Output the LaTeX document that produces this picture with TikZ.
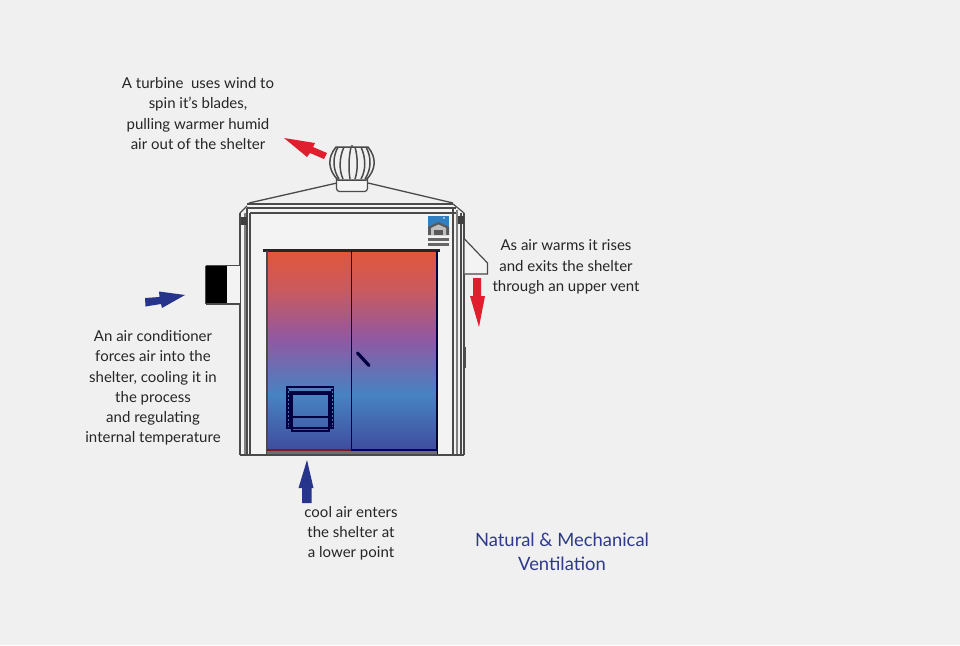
\documentclass[tikz,border=0pt]{standalone}
\usepackage{fontspec}
\setmainfont{Lato}
\definecolor{bgc}{HTML}{F0F0F0}
\definecolor{ln}{HTML}{4A4A4A}
\definecolor{arrred}{HTML}{DF1F2D}
\definecolor{arrblue}{HTML}{27348B}
\definecolor{titleblue}{HTML}{2E3A8C}
\definecolor{txt}{HTML}{262626}
\definecolor{wallw}{HTML}{F3F3F3}
\definecolor{logoblue}{HTML}{2F7FC1}
\pgfdeclareverticalshading{doorgrad}{100bp}{
  rgb(0bp)=(0.247,0.290,0.612);
  rgb(25bp)=(0.247,0.290,0.612);
  rgb(39.2bp)=(0.278,0.514,0.761);
  rgb(52.9bp)=(0.561,0.349,0.639);
  rgb(65.3bp)=(0.788,0.353,0.369);
  rgb(75bp)=(0.886,0.337,0.231);
  rgb(100bp)=(0.886,0.337,0.231)}
\tikzset{
  wall/.style={draw=ln,line width=1.2pt},
  thin wall/.style={draw=ln!70,line width=1.1pt},
  win/.style={draw=black!75!blue,line width=1.1pt},
  blade/.style={draw=ln,line width=1.5pt},
  lbl/.style={align=center,font=\fontsize{15}{20.2}\selectfont,text=txt,inner sep=0pt},
}
\begin{document}
\begin{tikzpicture}[x=1pt,y=-1pt]
\useasboundingbox (0,0) rectangle (960,645);
\fill[bgc] (0,0) rectangle (960,645);
% shelter body
\fill[wallw] (240,213) -- (247,204) -- (456,204) -- (464,213) -- (464,455) -- (240,455) -- cycle;
% roof
\draw[wall,line width=1.3pt] (249,203) -- (337,183);
\draw[wall,line width=1.3pt] (368,183) -- (453,203);
% top band
\draw[wall] (247,204) -- (453,204);
\draw[wall] (247,208) -- (456,208);
\draw[wall] (250,213) -- (456,213);
\draw[wall] (240,213) -- (247,206);
\draw[wall] (453,204) -- (464,213);
% side walls
\draw[wall] (240,213) -- (240,455);
\draw[thin wall] (245,213) -- (245,455);
\draw[wall] (247,208) -- (247,455);
\draw[wall] (250,213) -- (250,455);
\draw[wall] (453,208) -- (453,455);
\draw[thin wall] (457,210) -- (457,455);
\draw[wall] (461,213) -- (461,455);
\draw[wall] (464,213) -- (464,455);
\draw[wall] (240,455) -- (464,455);
\fill[black!75] (240.5,217) rectangle (247,225);
\fill[black!75] (457.5,216) rectangle (463.5,224);
\fill[black!70] (463.5,347) rectangle (466,368);
% door
\path[shading=doorgrad] (267,251) rectangle (437,452);
\fill[black!85] (263,248.5) rectangle (440,251.5);
\draw[ln,line width=1.4pt] (267,251) -- (267,454);
\draw[black!75!blue,line width=1.4pt] (437,251) -- (437,454);
\draw[black!70!blue,line width=1.2pt] (351.5,251) -- (351.5,452);
\fill[red!60!black,opacity=.7] (267,449) rectangle (351,450.5);
\fill[black!65!blue] (351,449) rectangle (437,450.5);
\fill[ln!80] (267,450.5) rectangle (437,454);
\draw[black!75!blue,line width=3.2pt,line cap=round] (357.5,353) -- (369,365.5);
% door window
\draw[win] (287,387) rectangle (333.5,428);
\draw[win] (290,392) rectangle (331,428);
\draw[win] (292,394) rectangle (329,431);
\draw[win] (292,417) -- (329,417);
\draw[win,dash pattern=on 2pt off 2pt] (288.8,389) -- (288.8,426);
\draw[win,dash pattern=on 2pt off 2pt] (332,389) -- (332,426);
% logo
\fill[logoblue] (428,216) rectangle (449,235);
\fill[black!65] (428,227) -- (438.5,222) -- (449,227) -- (449,235) -- (428,235) -- cycle;
\fill[black!25] (431,228) -- (438.5,224.5) -- (446,228) -- (446,235) -- (431,235) -- cycle;
\fill[black!65] (434,230) rectangle (443,235);
\fill[white] (444,218) circle (0.9);
\fill[black!60] (428,237.5) rectangle (449,240.5);
\fill[black!60] (428,242.5) rectangle (449,245.5);
% side vent
\draw[wall,fill=wallw] (464.5,239) -- (487.5,263) -- (487.5,274) -- (464.5,274);
% air conditioner
\fill[wallw] (227,265.5) rectangle (240,304);
\fill[black] (205.5,265.5) rectangle (227,304);
\draw[wall] (205.5,265.5) -- (240,265.5);
\draw[wall] (205.5,304) -- (240,304);
\draw[wall] (205.5,265.5) -- (205.5,304);
% turbine
\draw[wall,fill=wallw,rounded corners=3pt] (336.5,178) -- (336.5,191.5) -- (367.5,191.5) -- (367.5,178);
\draw[blade,fill=bgc] (336,147) .. controls (327,158) and (328,170) .. (338,180) -- (366,180) .. controls (376,170) and (377,158) .. (368,147) -- cycle;
\draw[blade] (338,147) .. controls (332,158) and (333,170) .. (339,179);
\draw[blade] (344,147) .. controls (339,158) and (339,170) .. (343,179);
\draw[blade] (351,147) .. controls (348.5,158) and (348.5,170) .. (350,179);
\draw[blade] (355,147) .. controls (358,158) and (358,170) .. (355,179);
\draw[blade] (361,147) .. controls (366,158) and (366,170) .. (361,179);
\draw[blade] (366,147) .. controls (372,158) and (371,170) .. (365,179);
\draw[wall,line width=1pt] (338,180) -- (366,180);
\fill[ln] (352,146) circle (1.2);
% flow arrows
\fill[arrred] (284,138) -- (315,143) -- (313,147) -- (327,153) -- (324,159) -- (310,153) -- (307,157) -- cycle;
\fill[arrred] (473,278) -- (481,278) -- (481,296) -- (485,296) -- (479,327) -- (470,296) -- (473,296) -- cycle;
\fill[arrblue] (185,295) -- (159,291.5) -- (159.5,297) -- (145,298) -- (145.5,306.5) -- (161,304) -- (162,308) -- cycle;
\fill[arrblue] (307,460) -- (313.5,488) -- (311.5,488) -- (311.5,503) -- (302,503) -- (302,488) -- (298.5,488) -- cycle;
% labels
\node[lbl] (turbinetext) at (198,113.5) {A turbine\ \ uses wind to\\spin it’s blades,\\pulling warmer humid\\air out of the shelter};
\node[lbl] (actext) at (153,388) {An air conditioner\\forces air into the\\shelter, cooling it in\\the process\\and regulating\\internal temperature};
\node[lbl] (ventext) at (566,267) {As air warms it rises\\and exits the shelter\\through an upper vent};
\node[lbl] (cooltext) at (351,533) {cool air enters\\the shelter at\\a lower point};
\node[lbl,font=\fontsize{18.4}{24}\selectfont,text=titleblue] (title) at (562,552) {Natural \& Mechanical\\Ventilation};
\end{tikzpicture}
\end{document}
